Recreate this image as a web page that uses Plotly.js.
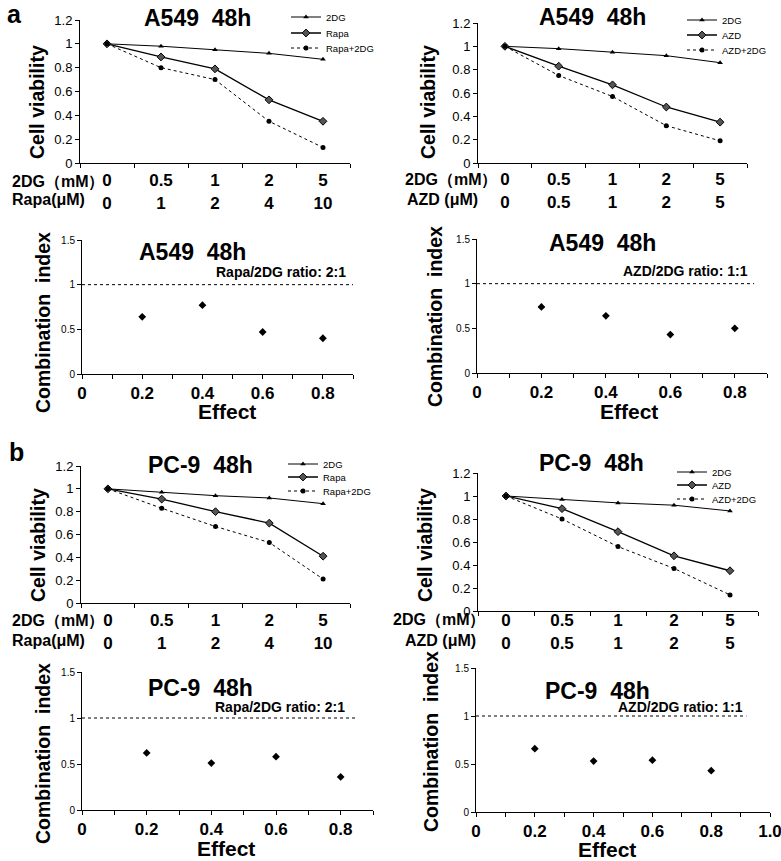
<!DOCTYPE html>
<html>
<head>
<meta charset="utf-8">
<script src="https://cdn.plot.ly/plotly-3.0.1.min.js"></script>
<style>
body { margin: 0; background: #fff; }
#chart { width: 781px; height: 861px; }
</style>
</head>
<body>
<div id="chart"></div>
<script>
var W = 781, H = 861;
var FONT = "Liberation Sans, Arial, sans-serif";

// doses under the viability plots
var dg_mM = ["0", "0.5", "1", "2", "5"];
var rapa_uM = ["0", "1", "2", "4", "10"];
var azd_uM = ["0", "0.5", "1", "2", "5"];

// cell viability, A549 48h
var a549_dg_r = [1, 0.98, 0.95, 0.92, 0.87];
var a549_rapa = [1, 0.89, 0.79, 0.53, 0.35];
var a549_rapa_dg = [1, 0.80, 0.70, 0.35, 0.13];
var a549_dg_a = [1, 0.98, 0.95, 0.92, 0.86];
var a549_azd = [1, 0.83, 0.67, 0.48, 0.35];
var a549_azd_dg = [1, 0.75, 0.57, 0.32, 0.19];

// cell viability, PC-9 48h
var pc9_dg_r = [1, 0.97, 0.94, 0.92, 0.87];
var pc9_rapa = [1, 0.91, 0.80, 0.70, 0.41];
var pc9_rapa_dg = [1, 0.83, 0.67, 0.53, 0.21];
var pc9_dg_a = [1, 0.97, 0.94, 0.92, 0.87];
var pc9_azd = [1, 0.89, 0.69, 0.48, 0.35];
var pc9_azd_dg = [1, 0.80, 0.56, 0.37, 0.14];

// combination index vs effect
var effect = [0.2, 0.4, 0.6, 0.8];
var ci_a549_rapa = [0.64, 0.77, 0.47, 0.40];
var ci_a549_azd = [0.74, 0.64, 0.43, 0.50];
var ci_pc9_rapa = [0.62, 0.51, 0.58, 0.36];
var ci_pc9_azd = [0.66, 0.53, 0.54, 0.43];
var ci_ref = 1;

var SP = "\u00a0 "; // keeps the double space in titles

function px(x) { return x / W; }
function py(y) { return 1 - y / H; }
function ax(n) { return n == 1 ? "" : String(n); }

var data = [];
var legCount = 0;
var layout = {
    width: W, height: H,
    margin: {l: 0, r: 0, t: 0, b: 0},
    paper_bgcolor: "white", plot_bgcolor: "white",
    font: {family: FONT, color: "black"},
    showlegend: true,
    annotations: [],
    shapes: []
};

function note(text, x, y, size, opts) {
    var a = {
        text: text, x: px(x), y: py(y), xref: "paper", yref: "paper",
        showarrow: false, xanchor: "center", yanchor: "middle",
        font: {family: FONT, size: size, color: "black", weight: "bold"}
    };
    for (var k in opts) a[k] = opts[k];
    layout.annotations.push(a);
}

// box = [left, top, right, bottom] in pixels
// legX = left of legend, legY = centre of each legend row
function viabPanel(n, box, row2, series, names, legX, legY, standoff) {
    var cats = dg_mM.map(function (d, i) { return d + "<br>" + row2[i]; });
    layout["xaxis" + ax(n)] = {
        domain: [px(box[0]), px(box[2])], anchor: "y" + ax(n),
        type: "category", categoryarray: cats, range: [-0.5, 4.5],
        showline: true, linecolor: "black", linewidth: 1,
        ticks: "outside", tickson: "boundaries", ticklen: 4, tickcolor: "black",
        showgrid: false, zeroline: false,
        ticklabelstandoff: standoff,
        tickfont: {family: FONT, size: 17, weight: "bold"}
    };
    layout["yaxis" + ax(n)] = {
        domain: [py(box[3]), py(box[1])], anchor: "x" + ax(n),
        range: [0, 1.2], tick0: 0, dtick: 0.2,
        showline: true, linecolor: "black", linewidth: 1,
        ticks: "outside", ticklen: 4, tickcolor: "black",
        showgrid: false, zeroline: false,
        tickfont: {family: FONT, size: 13}
    };
    var styles = [
        {line: {color: "black", width: 1}, marker: {symbol: "triangle-up", size: 5, color: "black"}},
        {line: {color: "black", width: 1.3}, marker: {symbol: "diamond", size: 6, color: "#555", line: {color: "black", width: 1}}},
        {line: {color: "black", width: 1, dash: "3px,3px"}, marker: {symbol: "circle", size: 5, color: "black"}}
    ];
    for (var i = 0; i < 3; i++) {
        legCount++;
        var leg = "legend" + ax(legCount);
        layout[leg] = {
            x: px(legX), y: py(legY[i]), xanchor: "left", yanchor: "middle",
            bgcolor: "rgba(0,0,0,0)",
            font: {family: FONT, size: 9.5}
        };
        data.push({
            x: cats, y: series[i], name: names[i],
            xaxis: "x" + ax(n), yaxis: "y" + ax(n), legend: leg,
            mode: "lines+markers", line: styles[i].line, marker: styles[i].marker,
            hoverinfo: "skip"
        });
    }
}

function ciPanel(n, box, xmax, yvals, refEnd, lastLabel) {
    var tv = [], tt = [];
    for (var i = 0; i <= Math.round(xmax * 10); i++) {
        tv.push(i / 10);
        tt.push(i % 2 == 0 ? (i == 0 ? "0" : (i / 10).toFixed(1)) : "");
    }
    if (lastLabel) tt[tt.length - 1] = lastLabel;
    layout["xaxis" + ax(n)] = {
        domain: [px(box[0]), px(box[2])], anchor: "y" + ax(n),
        range: [0, xmax], tickmode: "array", tickvals: tv, ticktext: tt,
        showline: true, linecolor: "black", linewidth: 1,
        ticks: "outside", ticklen: 4, tickcolor: "black",
        showgrid: false, zeroline: false, ticklabeloverflow: "allow",
        tickfont: {family: FONT, size: 17, weight: "bold"}
    };
    layout["yaxis" + ax(n)] = {
        domain: [py(box[3]), py(box[1])], anchor: "x" + ax(n),
        range: [0, 1.5], tickmode: "array", tickvals: [0, 0.5, 1, 1.5],
        showline: true, linecolor: "black", linewidth: 1,
        ticks: "outside", ticklen: 4, tickcolor: "black",
        showgrid: false, zeroline: false,
        tickfont: {family: FONT, size: 10}
    };
    data.push({
        x: effect, y: yvals, xaxis: "x" + ax(n), yaxis: "y" + ax(n),
        mode: "markers", showlegend: false, hoverinfo: "skip",
        marker: {symbol: "diamond", size: 6, color: "black"}
    });
    layout.shapes.push({
        type: "line", xref: "x" + ax(n), yref: "y" + ax(n),
        x0: 0, x1: refEnd, y0: ci_ref, y1: ci_ref,
        line: {color: "black", width: 1, dash: "dot"}
    });
}

// panel a
viabPanel(1, [80, 20, 350, 163], rapa_uM, [a549_dg_r, a549_rapa, a549_rapa_dg],
    ["2DG", "Rapa", "Rapa+2DG"], 286, [17, 33, 48], 2);
viabPanel(2, [478, 23, 747, 163], azd_uM, [a549_dg_a, a549_azd, a549_azd_dg],
    ["2DG", "AZD", "AZD+2DG"], 682, [20, 35, 50], 1);
ciPanel(3, [82, 240, 353, 374], 0.9, ci_a549_rapa, 0.93);
ciPanel(4, [477, 239, 767, 373], 0.9, ci_a549_azd, 0.86);

// panel b
viabPanel(5, [81, 466, 350, 603], rapa_uM, [pc9_dg_r, pc9_rapa, pc9_rapa_dg],
    ["2DG", "Rapa", "Rapa+2DG"], 283, [464, 477, 491], 2);
viabPanel(6, [478, 473, 758, 611], azd_uM, [pc9_dg_a, pc9_azd, pc9_azd_dg],
    ["2DG", "AZD", "AZD+2DG"], 672, [472, 485, 499], -6);
ciPanel(7, [82, 672, 373, 810], 0.9, ci_pc9_rapa, 0.853);
ciPanel(8, [476, 668, 770, 812], 1.0, ci_pc9_azd, 0.92, "1.0");

// titles
note("A549" + SP + "48h", 197, 18, 23);
note("A549" + SP + "48h", 592, 17, 23);
note("A549" + SP + "48h", 192, 252, 23);
note("A549" + SP + "48h", 602, 243, 23);
note("PC-9" + SP + "48h", 200, 465, 23);
note("PC-9" + SP + "48h", 591, 463, 23);
note("PC-9" + SP + "48h", 200, 688, 23);
note("PC-9" + SP + "48h", 597, 691, 23);

// ratio labels
note("Rapa/2DG ratio: 2:1", 281, 272, 14);
note("AZD/2DG ratio: 1:1", 685, 271, 14);
note("Rapa/2DG ratio: 2:1", 280, 707, 14);
note("AZD/2DG ratio: 1:1", 680, 707, 14);

// y axis titles
note("Cell viability", 37, 102, 19.5, {textangle: -90});
note("Cell viability", 428, 102, 19.5, {textangle: -90});
note("Cell viability", 38, 545, 19.5, {textangle: -90});
note("Cell viability", 425, 545, 19.5, {textangle: -90});
note("Combination" + SP + "index", 43, 323, 19.5, {textangle: -90});
note("Combination" + SP + "index", 435, 317, 19.5, {textangle: -90});
note("Combination" + SP + "index", 43, 754, 19.5, {textangle: -90});
note("Combination" + SP + "index", 431, 742, 19.5, {textangle: -90});

// x axis titles
note("Effect", 227, 411, 21);
note("Effect", 629, 411, 21);
note("Effect", 226, 848, 21);
note("Effect", 607, 849, 21);

// dose row labels
note("2DG（mM）", 10, 182, 16, {xanchor: "left"});
note("Rapa(μM)", 10, 199, 16, {xanchor: "left"});
note("2DG（mM）", 403, 180, 16, {xanchor: "left"});
note("AZD (μM)", 405, 199, 16, {xanchor: "left"});
note("2DG（mM）", 10, 621, 16, {xanchor: "left"});
note("Rapa(μM)", 10, 640, 16, {xanchor: "left"});
note("2DG（mM）", 391, 620, 16, {xanchor: "left"});
note("AZD (μM)", 403, 640, 16, {xanchor: "left"});

// panel letters
note("a", 14, 14, 25);
note("b", 16, 452, 25);

Plotly.newPlot("chart", data, layout, {staticPlot: true});
</script>
</body>
</html>
